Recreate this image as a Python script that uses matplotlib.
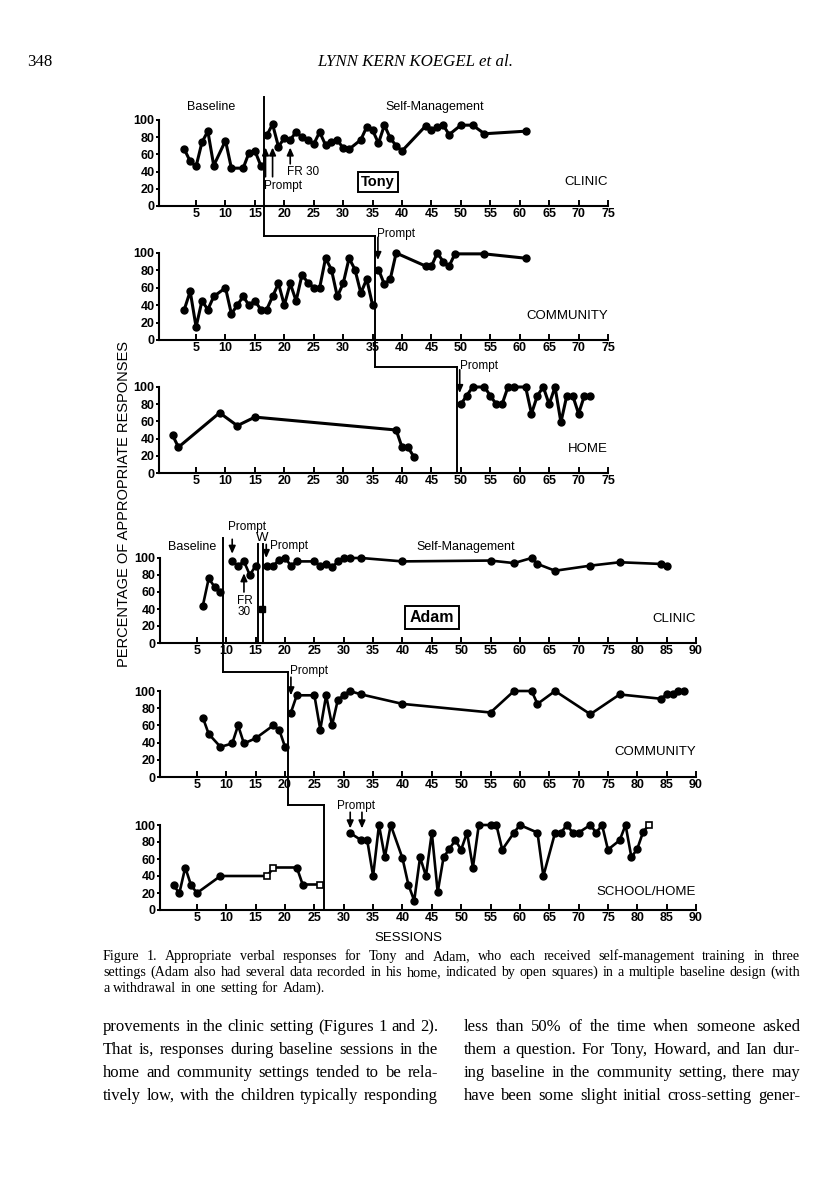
import matplotlib
matplotlib.use("Agg")
import matplotlib.pyplot as plt
from matplotlib import transforms

W, H = 816, 1198

# ---- Tony ----
tony_clinic_base_x = [3, 4, 5, 6, 7, 8, 10, 11, 13, 14, 15, 16]
tony_clinic_base_y = [66, 52, 46, 74, 87, 47, 76, 44, 44, 62, 64, 47]
tony_clinic_sm_x = [17, 18, 19, 20, 21, 22, 23, 24, 25, 26, 27, 28, 29, 30, 31, 33, 34, 35,
                    36, 37, 38, 39, 40, 44, 45, 46, 47, 48, 50, 52, 54, 61]
tony_clinic_sm_y = [82, 95, 69, 79, 77, 86, 80, 77, 72, 86, 71, 75, 77, 67, 66, 77, 92, 88,
                    73, 94, 79, 70, 64, 93, 88, 92, 94, 83, 94, 94, 84, 87]

tony_comm_base_x = [3, 4, 5, 6, 7, 8] + list(range(10, 36))
tony_comm_base_y = [35, 56, 15, 45, 35, 50,
                    60, 30, 40, 50, 40, 45, 35, 35, 50, 65,
                    40, 65, 45, 75, 66, 60, 60, 94, 81, 50,
                    65, 94, 81, 54, 70, 40]
tony_comm_sm_x = [36, 37, 38, 39, 44, 45, 46, 47, 48, 49, 54, 61]
tony_comm_sm_y = [81, 64, 70, 100, 85, 85, 100, 90, 85, 99, 99, 94]

tony_home_base_x = [1, 2, 9, 12, 15, 39, 40, 41, 42]
tony_home_base_y = [44, 30, 70, 55, 65, 50, 30, 30, 19]
tony_home_sm_x = [50, 51, 52, 54, 55, 56, 57, 58, 59, 61, 62, 63, 64, 65, 66, 67, 68, 69, 70, 71, 72]
tony_home_sm_y = [80, 90, 100, 100, 90, 80, 80, 100, 100, 100, 69, 90, 100, 80, 100, 59, 90, 90, 69, 90, 90]

# ---- Adam ----
adam_clinic_base_x = [6, 7, 8, 9]
adam_clinic_base_y = [44, 76, 66, 60]
adam_clinic_prompt_x = [11, 12, 13, 14, 15]
adam_clinic_prompt_y = [96, 91, 96, 80, 91]
adam_clinic_w_x = [16]
adam_clinic_w_y = [40]
adam_clinic_sm_x = [17, 18, 19, 20, 21, 22, 25, 26, 27, 28, 29, 30, 31, 33, 40, 55, 59, 62, 63, 66, 72, 77, 84, 85]
adam_clinic_sm_y = [91, 91, 98, 100, 91, 96, 96, 91, 93, 89, 96, 100, 100, 100, 96, 97, 94, 100, 93, 85, 91, 95, 93, 91]

adam_comm_base_x = [6, 7, 9, 11, 12, 13, 15, 18, 19, 20]
adam_comm_base_y = [69, 50, 35, 39, 60, 39, 45, 60, 55, 35]
adam_comm_sm_x = [21, 22, 25, 26, 27, 28, 29, 30, 31, 33, 40, 55, 59, 62, 63, 66, 72, 77, 84, 85, 86, 87, 88]
adam_comm_sm_y = [75, 95, 95, 55, 95, 60, 90, 95, 100, 96, 85, 75, 100, 100, 85, 100, 73, 96, 91, 96, 96, 100, 100]

adam_school_base_x = [1, 2, 3, 4, 5, 9, 17, 18, 22, 23, 26]
adam_school_base_y = [29, 20, 50, 29, 20, 40, 40, 50, 50, 30, 30]
adam_school_base_home = [0, 0, 0, 0, 0, 0, 1, 1, 0, 0, 1]
adam_school_sm_x = [31, 33, 34, 35, 36, 37, 38, 40, 41, 42, 43, 44, 45, 46, 47, 48, 49, 50, 51, 52, 53,
                    55, 56, 57, 59, 60, 63, 64, 66, 67, 68, 69, 70, 72, 73, 74, 75, 77, 78, 79, 80, 81, 82]
adam_school_sm_y = [91, 82, 82, 40, 100, 62, 100, 61, 30, 11, 62, 40, 91, 21, 62, 72, 82, 71, 91, 50, 100,
                    100, 100, 71, 91, 100, 91, 40, 91, 91, 100, 91, 91, 100, 91, 100, 71, 82, 100, 62, 72, 92, 100]
adam_school_sm_home = [0] * 42 + [1]

tony_ticks = list(range(5, 80, 5))
adam_ticks = list(range(5, 95, 5))
y_ticks = [0, 20, 40, 60, 80, 100]

# phase changes (session positions)
tony_phase = [16.5, 35.45, 49.35]
adam_phase = [9.4, 20.5, 26.7]
adam_withdraw = [15.35, 16.3]

plt.rcParams["font.family"] = ["Liberation Sans", "DejaVu Sans"]
fig = plt.figure(figsize=(W / 100, H / 100), dpi=100)
fig.patch.set_facecolor("white")


def fy(py):
    return 1 - py / H


def px_axes(left, right, top, bottom):
    return fig.add_axes([left / W, fy(bottom), (right - left) / W, (bottom - top) / H])


def style_axis(ax, xmax, ticks):
    ax.set_xlim(-1.3, xmax)
    ax.set_ylim(0, 100)
    ax.patch.set_visible(False)
    for s in ("top", "right"):
        ax.spines[s].set_visible(False)
    for s in ("left", "bottom"):
        ax.spines[s].set_linewidth(1.5)
    ax.set_xticks(ticks)
    ax.set_yticks(y_ticks)
    ax.tick_params(axis="x", direction="in", length=4.5, width=1.4, pad=1.5, labelsize=9)
    ax.tick_params(axis="y", direction="out", length=2.5, width=1.4, pad=0.8, labelsize=9)
    for lb in ax.get_xticklabels() + ax.get_yticklabels():
        lb.set_fontweight("bold")


def series(ax, x, y, lw=2.2, ms=5):
    ax.plot(x, y, color="k", lw=lw, marker="o", ms=ms, clip_on=False)


def vline(ax, x, top_py, bottom_py):
    tr = transforms.blended_transform_factory(ax.transData, fig.transFigure)
    ax.plot([x, x], [fy(top_py), fy(bottom_py)], transform=tr, color="k", lw=1.4, clip_on=False)


def hline(ax, x0, x1, py):
    tr = transforms.blended_transform_factory(ax.transData, fig.transFigure)
    ax.plot([x0, x1], [fy(py), fy(py)], transform=tr, color="k", lw=1.4, clip_on=False)


def arrow(ax, x, y_from, y_to):
    ax.annotate("", xy=(x, y_to), xytext=(x, y_from), annotation_clip=False,
                arrowprops=dict(arrowstyle="-|>,head_length=0.45,head_width=0.2",
                                color="k", lw=1.2, shrinkA=0, shrinkB=0))


def label(ax, x, y, s, **kw):
    kw.setdefault("fontsize", 8.5)
    ax.text(x, y, s, clip_on=False, **kw)


# ---------------- Tony ----------------
ax1 = px_axes(159, 608, 120, 206)
ax2 = px_axes(159, 608, 253, 340)
ax3 = px_axes(159, 608, 387, 473)
for ax in (ax1, ax2, ax3):
    style_axis(ax, 75, tony_ticks)

series(ax1, tony_clinic_base_x, tony_clinic_base_y)
series(ax1, tony_clinic_sm_x, tony_clinic_sm_y)
series(ax2, tony_comm_base_x, tony_comm_base_y)
series(ax2, tony_comm_sm_x, tony_comm_sm_y)
series(ax3, tony_home_base_x, tony_home_base_y)
series(ax3, tony_home_sm_x, tony_home_sm_y)

vline(ax1, tony_phase[0], 97, 236)
hline(ax1, tony_phase[0], tony_phase[1], 236)
vline(ax2, tony_phase[1], 236, 367)
hline(ax2, tony_phase[1], tony_phase[2], 367)
vline(ax3, tony_phase[2], 367, 473)

label(ax1, 7.6, 115, "Baseline", ha="center", va="center", fontsize=9)
label(ax1, 45.5, 115, "Self-Management", ha="center", va="center", fontsize=9)
arrow(ax1, 16.8, 34, 68)
arrow(ax1, 18.0, 34, 68)
arrow(ax1, 21.0, 49, 68)
label(ax1, 16.5, 23, "Prompt", ha="left", va="center")
label(ax1, 20.4, 40, "FR 30", ha="left", va="center")
label(ax1, 35.9, 28, "Tony", ha="center", va="center", fontsize=10.5, fontweight="bold",
      bbox=dict(boxstyle="square,pad=0.2", fc="white", ec="k", lw=1.4))
label(ax1, 75, 28, "CLINIC", ha="right", va="center", fontsize=9.5)

arrow(ax2, 35.9, 118, 92)
label(ax2, 35.8, 122, "Prompt", ha="left", va="center")
label(ax2, 75, 28, "COMMUNITY", ha="right", va="center", fontsize=9.5)

arrow(ax3, 49.8, 120, 93)
label(ax3, 49.9, 124, "Prompt", ha="left", va="center")
label(ax3, 75, 28, "HOME", ha="right", va="center", fontsize=9.5)

# ---------------- Adam ----------------
ax4 = px_axes(160, 696, 558, 643)
ax5 = px_axes(160, 696, 691, 777)
ax6 = px_axes(160, 696, 825, 910)
for ax in (ax4, ax5, ax6):
    style_axis(ax, 90, adam_ticks)

series(ax4, adam_clinic_base_x, adam_clinic_base_y, lw=1.9)
series(ax4, adam_clinic_prompt_x, adam_clinic_prompt_y, lw=1.9)
ax4.plot(adam_clinic_w_x, adam_clinic_w_y, "s", color="k", ms=5, clip_on=False)
series(ax4, adam_clinic_sm_x, adam_clinic_sm_y, lw=1.9)
series(ax5, adam_comm_base_x, adam_comm_base_y, lw=1.9)
series(ax5, adam_comm_sm_x, adam_comm_sm_y, lw=1.9)

for xs, ys, home in ((adam_school_base_x, adam_school_base_y, adam_school_base_home),
                     (adam_school_sm_x, adam_school_sm_y, adam_school_sm_home)):
    ax6.plot(xs, ys, color="k", lw=1.9, clip_on=False)
    fx = [a for a, h in zip(xs, home) if not h]
    fyv = [b for b, h in zip(ys, home) if not h]
    hx = [a for a, h in zip(xs, home) if h]
    hy = [b for b, h in zip(ys, home) if h]
    ax6.plot(fx, fyv, "o", color="k", ms=5, clip_on=False)
    ax6.plot(hx, hy, "s", mfc="white", mec="k", mew=1.2, ms=5, clip_on=False)

vline(ax4, adam_phase[0], 538, 672)
vline(ax4, adam_withdraw[0], 544, 643)
vline(ax4, adam_withdraw[1], 544, 643)
hline(ax4, adam_phase[0], adam_phase[1], 672)
vline(ax5, adam_phase[1], 672, 805)
hline(ax5, adam_phase[1], adam_phase[2], 805)
vline(ax6, adam_phase[2], 805, 910)

label(ax4, 4.1, 113, "Baseline", ha="center", va="center", fontsize=9)
label(ax4, 50.8, 113, "Self-Management", ha="center", va="center", fontsize=9)
label(ax4, 13.5, 136, "Prompt", ha="center", va="center")
arrow(ax4, 11.0, 122, 105)
label(ax4, 16.05, 123, "W", ha="center", va="center", fontsize=9.5)
label(ax4, 17.4, 114, "Prompt", ha="left", va="center")
arrow(ax4, 16.8, 116, 100)
arrow(ax4, 13.0, 60, 82)
label(ax4, 13.1, 57, "FR\n30", ha="center", va="top", linespacing=0.95)
label(ax4, 45, 30, "Adam", ha="center", va="center", fontsize=11.5, fontweight="bold",
      bbox=dict(boxstyle="square,pad=0.28", fc="white", ec="k", lw=1.4))
label(ax4, 90, 28, "CLINIC", ha="right", va="center", fontsize=9.5)

label(ax5, 20.85, 123, "Prompt", ha="left", va="center")
arrow(ax5, 21.0, 116, 95)
label(ax5, 90, 29, "COMMUNITY", ha="right", va="center", fontsize=9.5)

label(ax6, 32.1, 122, "Prompt", ha="center", va="center")
arrow(ax6, 31.1, 115, 96)
arrow(ax6, 33.1, 115, 96)
label(ax6, 90, 21, "SCHOOL/HOME", ha="right", va="center", fontsize=9.5)

fig.text(408 / W, fy(938), "SESSIONS", ha="center", va="center", fontsize=9.5)
fig.text(124 / W, fy(504), "PERCENTAGE OF APPROPRIATE RESPONSES", rotation=90,
         ha="center", va="center", fontsize=10.5)

# ---------------- page text ----------------
serif = ["Liberation Serif", "DejaVu Serif"]
fig.text(27 / W, fy(62), "348", ha="left", va="center", fontsize=12.2, family=serif)
fig.text(415 / W, fy(62), "LYNN KERN KOEGEL et al.", ha="center", va="center",
         fontsize=12.2, family=serif, style="italic")

renderer = fig.canvas.get_renderer()


def justify(line, x0, x1, base_py, size, last=False):
    words = line.split()
    texts = [fig.text(0, fy(base_py), w, fontsize=size, family=serif, va="baseline") for w in words]
    widths = [t.get_window_extent(renderer).width for t in texts]
    if last or len(words) == 1:
        gap = size * 0.3 * 100 / 72
    else:
        gap = (x1 - x0 - sum(widths)) / (len(words) - 1)
    x = x0
    for t, w in zip(texts, widths):
        t.set_x(x / W)
        x += w + gap


caption = [
    "Figure 1.  Appropriate verbal responses for Tony and Adam, who each received self-management training in three",
    "settings (Adam also had several data recorded in his home, indicated by open squares) in a multiple baseline design (with",
    "a withdrawal in one setting for Adam).",
]
for i, ln in enumerate(caption):
    justify(ln, 103, 800, 960 + i * 16, 10.1, last=(i == len(caption) - 1))

left_col = [
    "provements in the clinic setting (Figures 1 and 2).",
    "That is, responses during baseline sessions in the",
    "home and community settings tended to be rela-",
    "tively low, with the children typically responding",
]
right_col = [
    "less than 50% of the time when someone asked",
    "them a question. For Tony, Howard, and Ian dur-",
    "ing baseline in the community setting, there may",
    "have been some slight initial cross-setting gener-",
]
for i, ln in enumerate(left_col):
    justify(ln, 103, 438, 1031 + i * 23, 12.0)
for i, ln in enumerate(right_col):
    justify(ln, 464, 800, 1031 + i * 23, 12.0)

fig.savefig("out.png", dpi=100, facecolor="white")
